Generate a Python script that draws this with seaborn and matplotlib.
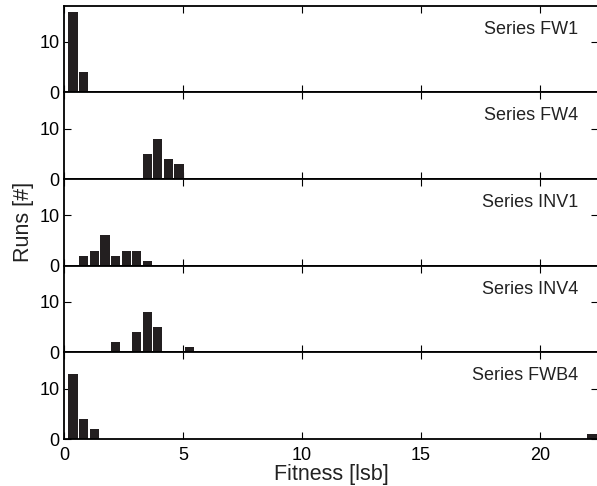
import matplotlib
matplotlib.use("Agg")
import matplotlib.pyplot as plt
import seaborn as sns

# ---- data (bin centres in lsb, counts in runs) ----
series_names = ["Series FW1", "Series FW4", "Series INV1", "Series INV4", "Series FWB4"]

fw1_centers = [0.38, 0.83]
fw1_counts = [16, 4]

fw4_centers = [3.50, 3.94, 4.39, 4.83]
fw4_counts = [5, 8, 4, 3]

inv1_centers = [0.83, 1.27, 1.72, 2.16, 2.61, 3.05, 3.50]
inv1_counts = [2, 3, 6, 2, 3, 3, 1]

inv4_centers = [2.16, 3.05, 3.50, 3.94, 5.28]
inv4_counts = [2, 4, 8, 5, 1]

fwb4_centers = [0.38, 0.83, 1.27, 22.19]
fwb4_counts = [13, 4, 2, 1]

x_ticks = [0, 5, 10, 15, 20]
y_ticks = [0, 10]

all_centers = [fw1_centers, fw4_centers, inv1_centers, inv4_centers, fwb4_centers]
all_counts = [fw1_counts, fw4_counts, inv1_counts, inv4_counts, fwb4_counts]

sns.set_theme(style="white")
plt.rcParams["font.family"] = ["Liberation Sans", "DejaVu Sans"]

W, H = 597, 486
fig = plt.figure(figsize=(W / 100, H / 100), dpi=100)

left = 64 / W
right = 598 / W
top = 1 - 5.7 / H
bottom = 1 - 439 / H
ph = (top - bottom) / 5

bar_color = "#231f20"

for i, (name, cx, cy) in enumerate(zip(series_names, all_centers, all_counts)):
    y0 = top - (i + 1) * ph
    ax = fig.add_axes([left, y0, right - left, ph])
    sns.barplot(x=cx, y=cy, native_scale=True, width=0.88, color=bar_color,
                saturation=1, edgecolor="none", linewidth=0, ax=ax)
    ax.set_xlim(0, 22.44)
    ax.set_ylim(0, 17.2)
    ax.set_xticks(x_ticks)
    ax.set_yticks(y_ticks)
    ax.set_xlabel("")
    ax.set_ylabel("")
    ax.tick_params(axis="both", direction="in", length=5, width=0.8, color="black",
                   top=True, right=True, bottom=True, left=True,
                   labelsize=13, labelcolor="black")
    ax.tick_params(axis="y", pad=3)
    ax.tick_params(axis="x", pad=6)
    if i < 4:
        ax.tick_params(axis="x", labelbottom=False)
    for sp in ax.spines.values():
        sp.set_color("black")
        sp.set_linewidth(1.3)
    ax.text(0.963, 0.73, name, transform=ax.transAxes, ha="right", va="center",
            fontsize=13, color="#222222")

fig.text((left + right) / 2, 1 - 474 / H, "Fitness [lsb]", ha="center", va="center",
         fontsize=15.5, color="#222222")
fig.text(23.5 / W, 1 - 222 / H, "Runs [#]", ha="center", va="center", rotation=90,
         fontsize=15.5, color="#222222")

fig.savefig("out.png", dpi=100)
